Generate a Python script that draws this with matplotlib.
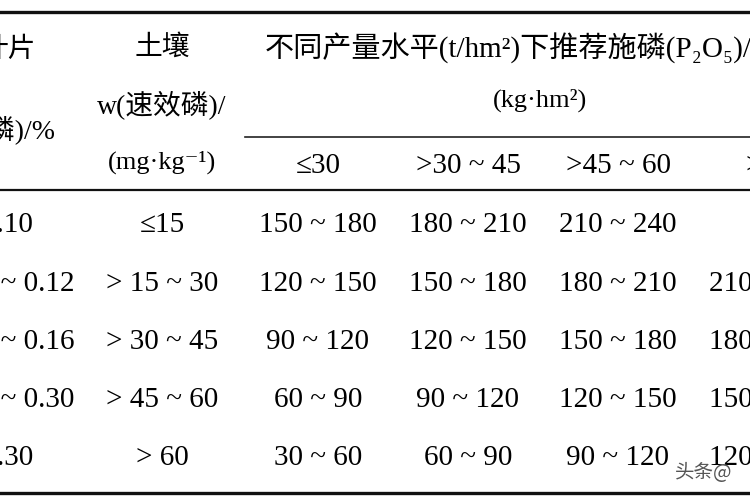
import matplotlib
matplotlib.use("Agg")
import matplotlib.pyplot as plt

plt.rcParams['font.family'] = ['Liberation Serif', 'Noto Sans CJK SC', 'DejaVu Serif']

# table content
leaf_p = ["≤0.10", ">0.10 ~ 0.12", ">0.12 ~ 0.16", ">0.16 ~ 0.30", ">0.30"]
soil_p = ["≤15", "> 15 ~ 30", "> 30 ~ 45", "> 45 ~ 60", "> 60"]
yield_levels = ["≤30", ">30 ~ 45", ">45 ~ 60", ">60"]
rates = [
    ["150 ~ 180", "180 ~ 210", "210 ~ 240", ""],
    ["120 ~ 150", "150 ~ 180", "180 ~ 210", "210 ~ 240"],
    ["90 ~ 120", "120 ~ 150", "150 ~ 180", "180 ~ 210"],
    ["60 ~ 90", "90 ~ 120", "120 ~ 150", "150 ~ 180"],
    ["30 ~ 60", "60 ~ 90", "90 ~ 120", "120 ~ 150"],
]

row_y = [225, 284, 342, 400, 458]
col_x = [0, 162, 318, 468, 618, 768]
FS = 21

fig = plt.figure(figsize=(7.5, 5), dpi=100)
ax = fig.add_axes([0, 0, 1, 1])
ax.set_xlim(0, 750)
ax.set_ylim(500, 0)
ax.axis("off")

# rules
ax.plot([0, 750], [12, 12], color="#111", lw=2.4)
ax.plot([245, 750], [137, 137], color="#222", lw=1.2)
ax.plot([0, 750], [190, 190], color="#111", lw=1.6)
ax.plot([0, 750], [493, 493], color="#111", lw=2.4)

# header
ax.text(36, 50, "叶片", ha="right", va="center", fontsize=FS - 1)
ax.text(56, 130, "w(全磷)/%", ha="right", va="center", fontsize=FS - 1)
ax.text(162, 48, "土壤", ha="center", va="center", fontsize=FS - 1)
ax.text(162, 105, "w(速效磷)/", ha="center", va="center", fontsize=FS - 1)
ax.text(162, 162, "(mg·kg⁻¹)", ha="center", va="center", fontsize=FS - 2)
ax.text(265, 48, "不同产量水平(t/hm²)下推荐施磷(P₂O₅)/", ha="left", va="center", fontsize=FS)
ax.text(540, 100, "(kg·hm²)", ha="center", va="center", fontsize=FS - 2)
for x, lab in zip(col_x[2:], yield_levels):
    ax.text(x, 166, lab, ha="center", va="center", fontsize=FS)

# body
for i, y in enumerate(row_y):
    ax.text(col_x[0], y, leaf_p[i], ha="center", va="center", fontsize=FS)
    ax.text(col_x[1], y, soil_p[i], ha="center", va="center", fontsize=FS)
    for j, val in enumerate(rates[i]):
        ax.text(col_x[j + 2], y, val, ha="center", va="center", fontsize=FS)

ax.text(675, 472, "头条@", ha="left", va="center", fontsize=14, color="#555",
        family=['Noto Sans CJK SC'], style="italic")

fig.savefig("out.png", dpi=100)
